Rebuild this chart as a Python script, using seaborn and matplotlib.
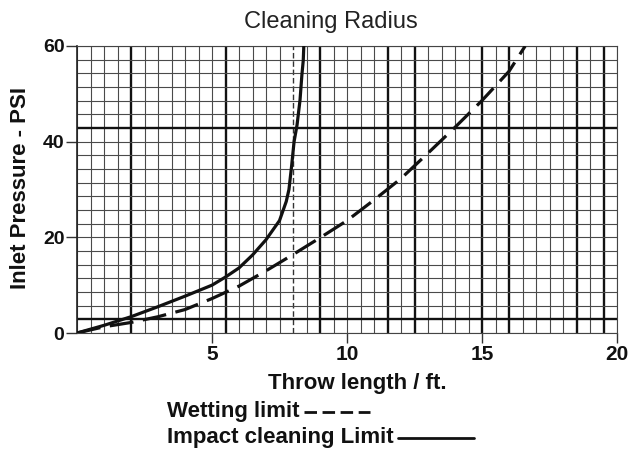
import matplotlib
matplotlib.use("Agg")
import matplotlib.pyplot as plt
from matplotlib.lines import Line2D
import numpy as np
import pandas as pd
import seaborn as sns

# Throw length (ft) vs inlet pressure (PSI) for each limit curve
impact_x = [0, 1, 2, 3, 4, 5, 5.5, 6, 6.5, 7, 7.5, 7.75, 7.85, 7.95, 8.04, 8.15, 8.26, 8.33, 8.38, 8.4]
impact_y = [0, 1.6, 3.4, 5.5, 7.7, 10, 11.7, 13.6, 16.3, 19.5, 23.5, 27.5, 30, 35, 40, 43.5, 48.7, 54, 57, 60]
wetting_x = [0, 1, 2, 3, 4, 5, 6, 7, 8, 9, 10, 11, 12, 13, 14, 15, 16, 16.6]
wetting_y = [0, 1.3, 2.2, 3.4, 4.9, 7.2, 9.8, 13.0, 16.4, 19.9, 23.5, 27.8, 32.3, 37.6, 43.0, 48.6, 54.7, 60]

x_ticks = [5, 10, 15, 20]
y_ticks = [0, 20, 40, 60]

title = "Cleaning Radius"
x_label = "Throw length / ft."
y_label = "Inlet Pressure - PSI"
wetting_label = "Wetting limit"
impact_label = "Impact cleaning Limit"

sns.set_theme(style="white")
plt.rcParams["font.family"] = ["Liberation Sans", "DejaVu Sans"]

W, H = 631, 457
fig = plt.figure(figsize=(W / 100, H / 100), dpi=100)
ax = fig.add_axes([77 / W, 1 - 333 / H, (617 - 77) / W, (333 - 46) / H])
ax.set_xlim(0, 20)
ax.set_ylim(0, 60)

# graph-paper grid: half-foot columns, 21 rows over the pressure range
col_step = 0.5
n_rows = 21
heavy_cols = [2, 5.5, 9, 11.5, 12.5, 15, 16, 18.5, 19.5]
heavy_rows = [1, 15]
for xv in np.arange(0, 20 + 1e-9, col_step):
    if any(abs(xv - h) < 1e-6 for h in heavy_cols):
        ax.axvline(xv, color="#111111", lw=1.7, zorder=1)
    elif abs(xv - 8) < 1e-6:
        ax.axvline(xv, color="#333333", lw=1.0, ls=(0, (4, 2)), zorder=1)
    else:
        ax.axvline(xv, color="#4a4a4a", lw=0.8, zorder=1)
for r in range(n_rows + 1):
    yv = r * 60 / n_rows
    if r in heavy_rows:
        ax.axhline(yv, color="#111111", lw=1.7, zorder=1)
    else:
        ax.axhline(yv, color="#4a4a4a", lw=0.8, zorder=1)

df_impact = pd.DataFrame({"x": impact_x, "y": impact_y})
df_wet = pd.DataFrame({"x": wetting_x, "y": wetting_y})
sns.lineplot(data=df_impact, x="x", y="y", sort=False, estimator=None,
             color="#111111", lw=2.3, ax=ax, zorder=3)
sns.lineplot(data=df_wet, x="x", y="y", sort=False, estimator=None,
             color="#111111", lw=2.3, ax=ax, zorder=3, dashes=False)
ax.lines[-1].set_dashes((7.5, 3))

for s in ax.spines.values():
    s.set_color("#444444")
    s.set_linewidth(0.8)
ax.spines["left"].set_color("#222222")
ax.spines["left"].set_linewidth(1.2)

ax.set_xticks(x_ticks)
ax.set_yticks(y_ticks)
ax.tick_params(axis="x", direction="out", length=7, width=1, color="#333333",
               pad=2, labelsize=15, bottom=True)
ax.tick_params(axis="y", direction="out", length=8, width=1, color="#333333",
               pad=1, labelsize=14, left=True)
for lab in ax.get_xticklabels() + ax.get_yticklabels():
    lab.set_fontweight("bold")
    lab.set_color("#111111")
ax.set_xlabel("")
ax.set_ylabel("")

fig.text(331 / W, 1 - 22 / H, title, ha="center", va="center", fontsize=17, color="#222222")
fig.text(357 / W, 1 - 383 / H, x_label, ha="center", va="center",
         fontsize=16, fontweight="bold", color="#111111")
fig.text(21 / W, 1 - 188 / H, y_label, ha="center", va="center", rotation=90,
         fontsize=16, fontweight="bold", color="#111111")

# key below the chart: label followed by a sample of the line style
fig.canvas.draw()
renderer = fig.canvas.get_renderer()
for label, ypix, style in [(wetting_label, 411, "dash"), (impact_label, 437, "solid")]:
    t = fig.text(167 / W, 1 - ypix / H, label, ha="left", va="center",
                 fontsize=16, fontweight="bold", color="#111111")
    bb = t.get_window_extent(renderer)
    x0 = bb.x1 + 4
    length = 66 if style == "dash" else 76
    ln = Line2D([x0 / W, (x0 + length) / W], [1 - (ypix + 1) / H, 1 - (ypix + 1) / H],
                transform=fig.transFigure, color="#111111", lw=2.0)
    if style == "dash":
        ln.set_dashes((4.5, 2))
    fig.add_artist(ln)

fig.savefig("out.png", dpi=100)
